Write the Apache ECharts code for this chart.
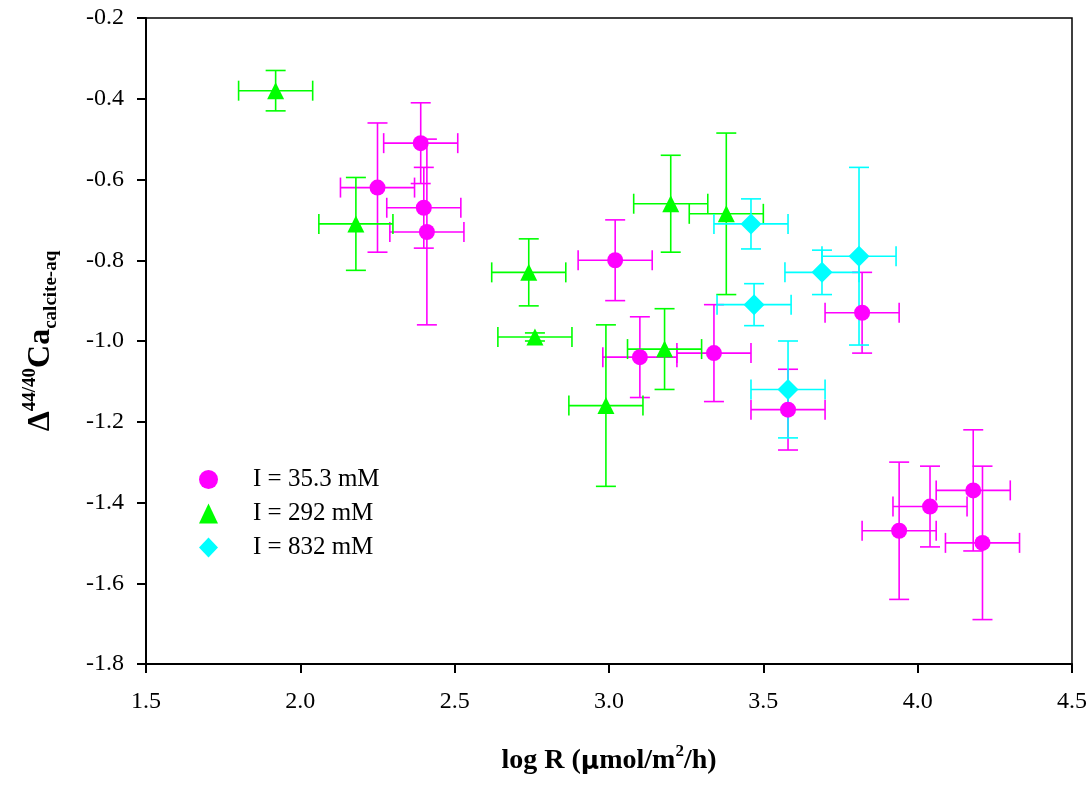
<!DOCTYPE html>
<html><head><meta charset="utf-8">
<script src="https://cdn.jsdelivr.net/npm/echarts@6/dist/echarts.min.js"></script>
<style>html,body{margin:0;padding:0;background:#fff}#c{width:1091px;height:785px}</style>
</head><body><div id="c"></div>
<script>
// I = 35.3 mM (magenta circles)
const magX    = [2.39, 2.25, 2.40, 2.41, 3.02, 3.10, 3.34, 3.82, 3.58, 3.94, 4.04, 4.18, 4.21];
const magY    = [-0.51, -0.62, -0.67, -0.73, -0.80, -1.04, -1.03, -0.93, -1.17, -1.47, -1.41, -1.37, -1.50];
const magXErr = [0.12, 0.12, 0.12, 0.12, 0.12, 0.12, 0.12, 0.12, 0.12, 0.12, 0.12, 0.12, 0.12];
const magYErr = [0.10, 0.16, 0.10, 0.23, 0.10, 0.10, 0.12, 0.10, 0.10, 0.17, 0.10, 0.15, 0.19];
// I = 292 mM (green triangles)
const grnX    = [1.92, 2.18, 2.74, 2.76, 2.99, 3.18, 3.20, 3.38];
const grnY    = [-0.38, -0.71, -0.83, -0.99, -1.16, -1.02, -0.66, -0.685];
const grnXErr = [0.12, 0.12, 0.12, 0.12, 0.12, 0.12, 0.12, 0.12];
const grnYErr = [0.05, 0.115, 0.083, 0.01, 0.20, 0.10, 0.12, 0.20];
// I = 832 mM (cyan diamonds)
const cyaX    = [3.46, 3.81, 3.69, 3.47, 3.58];
const cyaY    = [-0.71, -0.79, -0.83, -0.91, -1.12];
const cyaXErr = [0.12, 0.12, 0.12, 0.12, 0.12];
const cyaYErr = [0.062, 0.22, 0.055, 0.052, 0.12];

const seriesNames = ['I = 35.3 mM', 'I = 292 mM', 'I = 832 mM'];
const xTicks = [1.5, 2.0, 2.5, 3.0, 3.5, 4.0, 4.5];
const yTicks = [-1.8, -1.6, -1.4, -1.2, -1.0, -0.8, -0.6, -0.4, -0.2];

const FONT = '"Liberation Serif", "Times New Roman", serif';

function rows(xs, ys, xe, ye) { return xs.map((x, i) => [x, ys[i], xe[i], ye[i]]); }

function errRender(color) {
  return function (params, api) {
    const x = api.value(0), y = api.value(1), ex = api.value(2), ey = api.value(3);
    const c = api.coord([x, y]);
    const l = api.coord([x - ex, y]), r = api.coord([x + ex, y]);
    const t = api.coord([x, y + ey]), b = api.coord([x, y - ey]);
    const h = 10;
    const st = { stroke: color, lineWidth: 1.6 };
    return {
      type: 'group',
      children: [
        { type: 'line', shape: { x1: l[0], y1: c[1], x2: r[0], y2: c[1] }, style: st },
        { type: 'line', shape: { x1: l[0], y1: c[1] - h, x2: l[0], y2: c[1] + h }, style: st },
        { type: 'line', shape: { x1: r[0], y1: c[1] - h, x2: r[0], y2: c[1] + h }, style: st },
        { type: 'line', shape: { x1: c[0], y1: t[1], x2: c[0], y2: b[1] }, style: st },
        { type: 'line', shape: { x1: c[0] - h, y1: t[1], x2: c[0] + h, y2: t[1] }, style: st },
        { type: 'line', shape: { x1: c[0] - h, y1: b[1], x2: c[0] + h, y2: b[1] }, style: st }
      ]
    };
  };
}

const groups = [
  { name: seriesNames[0], color: '#ff00ff', symbol: 'circle', size: 16, data: rows(magX, magY, magXErr, magYErr) },
  { name: seriesNames[1], color: '#00ff00', symbol: 'triangle', size: 17, data: rows(grnX, grnY, grnXErr, grnYErr) },
  { name: seriesNames[2], color: '#00ffff', symbol: 'diamond', size: 21, data: rows(cyaX, cyaY, cyaXErr, cyaYErr) }
];

const series = [];
groups.forEach(g => {
  series.push({
    type: 'custom', name: g.name + ' err', renderItem: errRender(g.color),
    data: g.data, encode: { x: 0, y: 1 }, silent: true, z: 2
  });
});
groups.forEach(g => {
  series.push({
    type: 'scatter', name: g.name, symbol: g.symbol, symbolSize: g.size,
    itemStyle: { color: g.color, opacity: 1 },
    data: g.data.map(d => [d[0], d[1]]), z: 3
  });
});

const chart = echarts.init(document.getElementById('c'), null, { renderer: 'canvas' });
chart.setOption({
  animation: false,
  backgroundColor: '#fff',
  grid: { left: 146, right: 19, top: 18, bottom: 121, show: true, borderColor: '#000', borderWidth: 1.5, backgroundColor: 'transparent' },
  xAxis: {
    type: 'value', min: 1.5, max: 4.5, interval: 0.5,
    axisLine: { lineStyle: { color: '#000', width: 2 } },
    axisTick: { length: 9, lineStyle: { color: '#000', width: 2 } },
    splitLine: { show: false },
    axisLabel: { color: '#000', fontFamily: FONT, fontSize: 24, margin: 26,
      formatter: v => xTicks.includes(+v.toFixed(1)) ? v.toFixed(1) : '' }
  },
  yAxis: {
    type: 'value', min: -1.8, max: -0.2, interval: 0.2,
    axisLine: { lineStyle: { color: '#000', width: 2 } },
    axisTick: { length: 9, lineStyle: { color: '#000', width: 2 } },
    splitLine: { show: false },
    axisLabel: { color: '#000', fontFamily: FONT, fontSize: 24, margin: 22,
      formatter: v => yTicks.includes(+v.toFixed(1)) ? v.toFixed(1) : '' }
  },
  legend: {
    data: seriesNames.map(n => ({ name: n })),
    orient: 'vertical', left: 194, top: 462, itemGap: 9,
    itemWidth: 19, itemHeight: 20,
    textStyle: { fontFamily: FONT, fontSize: 25, lineHeight: 20, color: '#000', padding: [0, 0, 0, 30] },
    selectedMode: false
  },
  graphic: [
    {
      type: 'text', x: 609, y: 759,
      style: {
        text: '{b|log R (}{m|µ}{b|mol/m}{s|2}{b|/h)}',
        fill: '#000', align: 'center', verticalAlign: 'middle',
        rich: {
          b: { fontFamily: FONT, fontSize: 28, fontWeight: 'bold', lineHeight: 32, verticalAlign: 'bottom' },
          m: { fontFamily: '"DejaVu Sans", sans-serif', fontSize: 25, fontWeight: 'bold', lineHeight: 32, verticalAlign: 'bottom' },
          s: { fontFamily: FONT, fontSize: 17, fontWeight: 'bold', lineHeight: 18, verticalAlign: 'top' }
        }
      }
    },
    {
      type: 'text', x: 41, y: 341, rotation: Math.PI / 2,
      style: {
        text: '{b|Δ}{s|44/40}{b|Ca}{u|calcite-aq}',
        fill: '#000', align: 'center', verticalAlign: 'middle',
        rich: {
          b: { fontFamily: FONT, fontSize: 32, fontWeight: 'bold', lineHeight: 40, verticalAlign: 'middle' },
          s: { fontFamily: FONT, fontSize: 19, fontWeight: 'bold', lineHeight: 18, verticalAlign: 'top' },
          u: { fontFamily: FONT, fontSize: 19, fontWeight: 'bold', lineHeight: 16, verticalAlign: 'bottom' }
        }
      }
    }
  ],
  series: series
});
</script></body></html>
